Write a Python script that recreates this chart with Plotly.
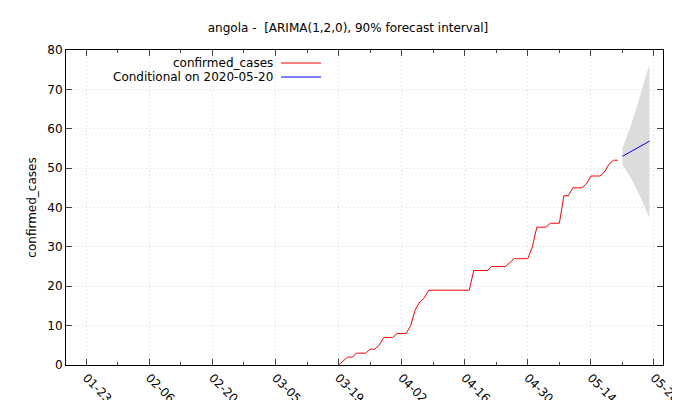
import plotly.graph_objects as go
import pandas as pd

start = "2020-03-19"
cases = [0,1,2,2,3,3,3,4,4,5,7,7,7,8,8,8,10,14,16,17,
         19,19,19,19,19,19,19,19,19,19,24,24,24,24,25,25,25,25,26,27,
         27,27,27,30,35,35,35,36,36,36,43,43,45,45,45,46,48,48,48,49,
         51,52,52]
fc_dates = pd.date_range("2020-05-21", periods=7).tolist()
fc_mean = [53.0,53.6,54.3,54.9,55.6,56.2,56.9]
fc_low = [51.0,49.1,47.3,44.9,42.6,40.2,37.4]
fc_high = [55.0,58.1,61.3,64.9,68.6,72.2,76.4]
case_dates = pd.date_range(start, periods=len(cases)).tolist()

fig = go.Figure()
fig.add_trace(go.Scatter(x=fc_dates + fc_dates[::-1], y=fc_high + fc_low[::-1],
                         mode="lines", fill="toself", fillcolor="#dcdcdc", line=dict(width=0, color="#dcdcdc"),
                         hoverinfo="skip", showlegend=False))
fig.add_trace(go.Scatter(x=case_dates, y=cases, mode="lines",
                         line=dict(color="red", width=1), showlegend=False))
fig.add_trace(go.Scatter(x=fc_dates, y=fc_mean, mode="lines",
                         line=dict(color="blue", width=1), showlegend=False))

font = dict(family="DejaVu Sans", size=12, color="black")
fig.update_layout(
    width=680, height=400, plot_bgcolor="white", paper_bgcolor="white",
    margin=dict(l=58, r=25, t=42, b=43), font=font,
    title=dict(text="angola -  [ARIMA(1,2,0), 90% forecast interval]",
               x=0.5, xanchor="center", y=0.95, yanchor="middle", font=dict(size=12)),
)
fig.update_xaxes(type="date", range=["2020-01-18 12:00", "2020-05-30"], automargin=False,
                 tick0="2020-01-23", dtick=14*86400000, tickformat="%m-%d",
                 tickangle=45, ticks="inside", ticklen=6, mirror="allticks",
                 showline=True, linecolor="black", linewidth=1,
                 showgrid=True, gridcolor="#d4d4d4", griddash="1px,3px",
                 minor=dict(dtick=7*86400000, tick0="2020-01-23", ticks="inside", ticklen=3, showgrid=False),
                 zeroline=False)
fig.update_yaxes(range=[0, 80], dtick=10, ticks="inside", ticklen=6, mirror="allticks", automargin=False,
                 showline=True, linecolor="black", linewidth=1,
                 showgrid=True, gridcolor="#d4d4d4", griddash="1px,3px",
                 title=dict(text="confirmed_cases", standoff=8, font=dict(size=12)), zeroline=False)

for i, (txt, col) in enumerate([("confirmed_cases", "red"), ("Conditional on 2020-05-20", "blue")]):
    ypx = 55 + 14*i
    yd = 1 - (ypx - 42) / 315
    fig.add_annotation(x=(267-58)/597, y=yd, xref="paper", yref="paper", text=txt, showarrow=False,
                       xanchor="right", yanchor="middle", font=font)
    fig.add_shape(type="line", xref="paper", yref="paper", x0=(273-58)/597, x1=(313-58)/597,
                  y0=yd, y1=yd, line=dict(color=col, width=1))

fig.write_html("out.html")
